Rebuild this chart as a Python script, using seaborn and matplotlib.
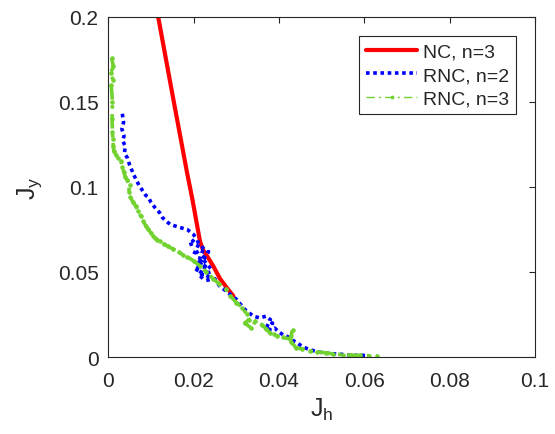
import matplotlib
matplotlib.use("Agg")
import matplotlib.pyplot as plt
import seaborn as sns
import pandas as pd

# NC, n=3
nc_x = [0.0105, 0.0117, 0.0150, 0.0185, 0.0197, 0.0215, 0.0222, 0.0235, 0.0246, 0.0262, 0.0280, 0.0293]
nc_y = [0.216, 0.200, 0.155, 0.108, 0.093, 0.068, 0.063, 0.058, 0.0535, 0.046, 0.040, 0.036]

# RNC, n=2
rnc2_x = [0.0033, 0.0036, 0.0032, 0.0037, 0.0034, 0.0040, 0.0038, 0.0045, 0.0050, 0.0055,
          0.0060, 0.0066, 0.0072, 0.0080, 0.0088, 0.0094, 0.0100, 0.0106, 0.0112, 0.0120,
          0.0127, 0.0135, 0.0145, 0.0157, 0.0170, 0.0185, 0.0195, 0.0200,
          0.0205, 0.0190, 0.0215, 0.0200, 0.0225, 0.0210, 0.0235, 0.0205, 0.0220, 0.0240,
          0.0215, 0.0230, 0.0212, 0.0240, 0.0228, 0.0250,
          0.0260, 0.0270, 0.0280, 0.0290, 0.0300, 0.0310, 0.0320, 0.0330, 0.0340, 0.0355,
          0.0370, 0.0380, 0.0372, 0.0385, 0.0378, 0.0390, 0.0400, 0.0410, 0.0420, 0.0430,
          0.0440, 0.0450, 0.0465, 0.0480, 0.0490, 0.0505, 0.0520, 0.0536, 0.0550, 0.0565,
          0.0580, 0.0597, 0.0605]
rnc2_y = [0.143, 0.138, 0.134, 0.130, 0.127, 0.124, 0.120, 0.117, 0.113, 0.110,
          0.107, 0.104, 0.101, 0.098, 0.095, 0.094, 0.091, 0.089, 0.087, 0.085,
          0.082, 0.080, 0.078, 0.077, 0.076, 0.075, 0.073, 0.072,
          0.070, 0.066, 0.068, 0.060, 0.065, 0.055, 0.062, 0.050, 0.058, 0.052,
          0.046, 0.055, 0.048, 0.050, 0.045, 0.046,
          0.042, 0.040, 0.038, 0.036, 0.034, 0.031, 0.028, 0.026, 0.024, 0.023,
          0.024, 0.022, 0.018, 0.020, 0.016, 0.017, 0.0147, 0.013, 0.012, 0.010,
          0.0088, 0.007, 0.005, 0.0038, 0.003, 0.0025, 0.002, 0.0018, 0.0015, 0.0012,
          0.001, 0.001, 0.0008]

# RNC, n=3
rnc3_x = [0.0008, 0.0012, 0.0006, 0.0011, 0.0007, 0.0010, 0.0009, 0.0010, 0.0011, 0.0012,
          0.0013, 0.0018, 0.0024, 0.0030, 0.0033, 0.0036, 0.0040, 0.0045, 0.0050, 0.0048,
          0.0052, 0.0058, 0.0064, 0.0070, 0.0076, 0.0082, 0.0088, 0.0094, 0.0100, 0.0106,
          0.0110, 0.0115, 0.0122, 0.0130, 0.0140, 0.0152, 0.0165, 0.0176, 0.0185, 0.0200,
          0.0215, 0.0230, 0.0246, 0.0260, 0.0275, 0.0286, 0.0300, 0.0314, 0.0325, 0.0330,
          0.0320, 0.0335, 0.0345, 0.0360, 0.0370, 0.0380, 0.0388, 0.0396, 0.0410, 0.0426,
          0.0432, 0.0428, 0.0440, 0.0455, 0.0473, 0.0490, 0.0510, 0.0527, 0.0550, 0.0570,
          0.0590, 0.0610, 0.0630]
rnc3_y = [0.176, 0.171, 0.167, 0.163, 0.160, 0.150, 0.140, 0.132, 0.128, 0.124,
          0.121, 0.119, 0.117, 0.115, 0.112, 0.109, 0.106, 0.104, 0.101, 0.097,
          0.094, 0.091, 0.089, 0.086, 0.083, 0.080, 0.077, 0.075, 0.073, 0.071,
          0.070, 0.069, 0.068, 0.0665, 0.065, 0.0635, 0.0615, 0.060, 0.059, 0.0565,
          0.0535, 0.050, 0.046, 0.043, 0.040, 0.036, 0.032, 0.029, 0.025, 0.022,
          0.020, 0.017, 0.021, 0.019, 0.0165, 0.014, 0.0135, 0.0124, 0.0115, 0.0106,
          0.016, 0.009, 0.0055, 0.0047, 0.0035, 0.003, 0.0025, 0.0018, 0.0014, 0.0011,
          0.0009, 0.0007, 0.0006]

x_ticks = [0, 0.02, 0.04, 0.06, 0.08, 0.1]
x_labels = ["0", "0.02", "0.04", "0.06", "0.08", "0.1"]
y_ticks = [0, 0.05, 0.1, 0.15, 0.2]
y_labels = ["0", "0.05", "0.1", "0.15", "0.2"]

green = "#72d22f"

sns.set_theme(style="white")
plt.rcParams["font.family"] = ["Liberation Sans", "DejaVu Sans"]
plt.rcParams["mathtext.fontset"] = "custom"
plt.rcParams["mathtext.rm"] = "Liberation Sans"

fig = plt.figure(figsize=(5.55, 4.35), dpi=100)
ax = fig.add_axes([0.195, 0.177, 0.769, 0.782])

nc = pd.DataFrame({"x": nc_x, "y": nc_y})
r2 = pd.DataFrame({"x": rnc2_x, "y": rnc2_y})
r3 = pd.DataFrame({"x": rnc3_x, "y": rnc3_y})

sns.lineplot(data=nc, x="x", y="y", sort=False, estimator=None, ax=ax,
             color="#ff0000", lw=3, label="NC, n=3")
sns.lineplot(data=r2, x="x", y="y", sort=False, estimator=None, ax=ax,
             color="#0000ff", lw=2.6, linestyle=(0, (1, 1)), label="RNC, n=2")
sns.lineplot(data=r3, x="x", y="y", sort=False, estimator=None, ax=ax,
             color=green, lw=2.6, linestyle=(0, (4, 1.5, 1, 1.5)), marker=".",
             markersize=5, markeredgecolor=green, markerfacecolor=green,
             label="RNC, n=3")

ax.set_xlim(0, 0.1)
ax.set_ylim(0, 0.2)
ax.set_xticks(x_ticks)
ax.set_xticklabels(x_labels)
ax.set_yticks(y_ticks)
ax.set_yticklabels(y_labels)
ax.tick_params(direction="in", length=4, width=0.8, colors="#262626",
               labelsize=15, top=True, right=True)
ax.tick_params(axis="x", pad=10)
ax.tick_params(axis="y", pad=7)
for s in ax.spines.values():
    s.set_color("#262626")
    s.set_linewidth(0.8)

ax.set_xlabel(r"J$_\mathregular{h}$", fontsize=18, color="#262626", labelpad=4)
ax.set_ylabel(r"J$_\mathregular{y}$", fontsize=18, color="#262626", labelpad=10)

leg = ax.legend(loc="upper right", fontsize=14, frameon=True, fancybox=False,
                edgecolor="#262626", borderaxespad=1.0, handlelength=2.6,
                handletextpad=0.3, labelspacing=0.3, borderpad=0.35)
leg.get_frame().set_linewidth(0.8)
leg.get_frame().set_alpha(1)
g = leg.get_lines()[2]
g.set_linewidth(1.0)
g.set_linestyle((0, (6, 3, 1.5, 3)))
g.set_markersize(4)

fig.savefig("out.png", dpi=100)
